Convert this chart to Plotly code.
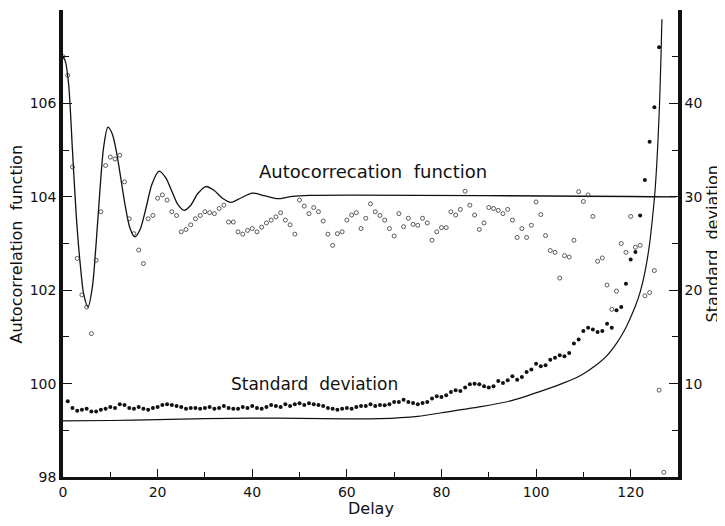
import plotly.graph_objects as go

# ---------------- data ----------------
# Autocorrelation function: measured points (left axis), delays 0..127
acf_delay = list(range(0, 128))
acf_values = [
    107.0, 106.6, 104.64, 102.68, 101.9, 101.64, 101.07, 102.64, 103.68, 104.67,
    104.85, 104.81, 104.89, 104.32, 103.53, 103.21, 102.86, 102.57, 103.53, 103.6,
    103.97, 104.04, 103.93, 103.68, 103.6, 103.25, 103.3, 103.4, 103.53, 103.6,
    103.68, 103.66, 103.64, 103.75, 103.82, 103.46, 103.46, 103.25, 103.2, 103.28,
    103.32, 103.25, 103.35, 103.44, 103.5, 103.57, 103.66, 103.5, 103.4, 103.2,
    103.93, 103.8, 103.64, 103.77, 103.68, 103.48, 103.2, 102.96, 103.21, 103.25,
    103.5, 103.61, 103.66, 103.32, 103.54, 103.85, 103.68, 103.6, 103.5, 103.32,
    103.16, 103.64, 103.36, 103.54, 103.41, 103.39, 103.54, 103.44, 103.07, 103.25,
    103.34, 103.34, 103.68, 103.61, 103.73, 104.12, 103.82, 103.61, 103.3, 103.44,
    103.77, 103.75, 103.71, 103.64, 103.73, 103.5, 103.13, 103.32, 103.13, 103.39,
    103.89, 103.62, 103.17, 102.85, 102.81, 102.26, 102.74, 102.71, 103.07, 104.11,
    103.9, 104.04, 103.58, 102.62, 102.69, 102.11, 101.59, 101.98, 103.0, 102.81,
    103.58, 102.92, 102.96, 101.88, 101.95, 102.42, 99.86, 98.1,
]

# Autocorrelation function: theoretical curve (left axis)
acf_curve_x = [0, 0.5, 1.2, 2.0, 2.8, 3.6, 4.4, 5.3, 6.2, 7.0, 7.8, 8.6, 9.5,
               10.4, 11.3, 12.2, 13.1, 14.1, 15.2, 16.3, 17.5, 18.8, 20.3,
               21.7, 23.0, 24.3, 25.6, 27.0, 28.5, 30.2, 31.9, 33.7, 35.5,
               37.7, 40.0, 42.7, 45.6, 48.5, 52.0, 129.6]
acf_curve_y = [107.0, 106.9, 106.4, 105.0, 103.6, 102.6, 101.9, 101.64, 102.06,
               103.0, 104.13, 105.07, 105.49, 105.35, 104.96, 104.41, 103.84,
               103.35, 103.14, 103.30, 103.74, 104.27, 104.55, 104.41, 104.12,
               103.83, 103.71, 103.82, 104.07, 104.22, 104.14, 103.97, 103.88,
               103.98, 104.08, 104.02, 103.96, 104.01, 104.03, 104.0]

# Standard deviation: measured points (right axis), delays 1..126
std_delay = list(range(1, 127))
std_values = [
    8.1, 7.4, 7.1, 7.2, 7.3, 7.0, 7.0, 7.2, 7.3, 7.5,
    7.4, 7.8, 7.7, 7.4, 7.3, 7.5, 7.3, 7.2, 7.4, 7.5,
    7.7, 7.8, 7.7, 7.6, 7.5, 7.3, 7.4, 7.4, 7.3, 7.4,
    7.5, 7.3, 7.4, 7.6, 7.4, 7.3, 7.3, 7.5, 7.4, 7.6,
    7.4, 7.3, 7.5, 7.7, 7.6, 7.5, 7.8, 7.6, 7.8, 7.9,
    7.7, 7.9, 7.8, 7.7, 7.6, 7.4, 7.3, 7.2, 7.3, 7.4,
    7.3, 7.5, 7.6, 7.6, 7.8, 7.6, 7.7,
    7.68, 7.79, 8.03, 8.03, 8.28, 8.03, 7.92, 7.79, 7.92, 8.03,
    8.4, 8.64, 8.57, 8.75, 9.11, 9.3, 9.21, 9.57, 9.92, 9.99,
    9.92, 9.71, 9.57, 9.71, 10.28, 10.07, 10.35, 10.78, 10.42, 10.71,
    11.25, 11.5, 12.13, 11.85, 11.96, 12.56, 12.78, 13.03, 12.92, 13.28,
    14.28, 14.71, 15.63, 15.99, 15.78, 15.53, 15.63, 16.42, 15.99, 17.85,
    18.21, 20.7, 23.3, 24.1, 28.0, 31.8, 35.9, 39.6, 46.0,
]

# Standard deviation: theoretical curve (right axis)
std_curve_x = [0, 10, 20, 30, 40, 50, 60, 67, 75, 81, 88, 95, 102, 106, 109.5,
               113, 115, 117, 118, 119, 120, 121, 122, 123, 124, 124.6, 125.2,
               125.7, 126.1, 126.4, 126.6]
std_curve_y = [6.0, 6.05, 6.15, 6.25, 6.3, 6.28, 6.22, 6.25, 6.5, 6.95, 7.5, 8.2,
               9.35, 10.1, 10.9, 12.1, 13.0, 14.3, 15.1, 16.0, 17.1, 18.3, 19.8,
               21.9, 25.0, 27.7, 31.0, 35.3, 40.0, 45.0, 49.0]

x_ticks = [0, 20, 40, 60, 80, 100, 120]
left_ticks = [98, 100, 102, 104, 106, 108]
left_labels = ["98", "100", "102", "104", "106", ""]
right_ticks = [0, 10, 20, 30, 40, 50]
right_labels = ["", "10", "20", "30", "40", ""]

FONT = "DejaVu Sans"
INK = "#111111"

fig = go.Figure()

fig.add_trace(go.Scatter(
    x=acf_curve_x, y=acf_curve_y, mode="lines",
    line=dict(color=INK, width=1.3, shape="spline", smoothing=0.8),
    yaxis="y", hoverinfo="skip"))

fig.add_trace(go.Scatter(
    x=acf_delay, y=acf_values, mode="markers",
    marker=dict(symbol="circle-open", size=4, color="#333333",
                line=dict(width=0.8, color="#333333")),
    yaxis="y"))

fig.add_trace(go.Scatter(
    x=std_curve_x, y=std_curve_y, mode="lines",
    line=dict(color=INK, width=1.2, shape="spline", smoothing=0.6),
    yaxis="y2", hoverinfo="skip"))

fig.add_trace(go.Scatter(
    x=std_delay, y=std_values, mode="markers",
    marker=dict(symbol="circle", size=4, color=INK),
    yaxis="y2"))

axis_common = dict(
    showgrid=False, zeroline=False, showline=True, linecolor=INK,
    ticks="inside", tickcolor=INK, tickwidth=1.3,
    tickfont=dict(family=FONT, size=14, color=INK),
)

fig.update_layout(
    width=725, height=526,
    # the page body adds an 8px offset; margins compensate for it
    margin=dict(l=55, r=55, t=2, b=57),
    paper_bgcolor="white", plot_bgcolor="white",
    showlegend=False,
    xaxis=dict(
        range=[0, 130], linewidth=3, ticklen=8,
        tickmode="array", tickvals=x_ticks,
        minor=dict(dtick=10, tick0=0, ticklen=5, ticks="inside",
                   tickcolor=INK, tickwidth=1.1),
        **axis_common),
    yaxis=dict(
        range=[98, 108], linewidth=3.5, ticklen=9,
        tickmode="array", tickvals=left_ticks, ticktext=left_labels,
        minor=dict(dtick=1, tick0=98, ticklen=6, ticks="inside",
                   tickcolor=INK, tickwidth=1.1),
        **axis_common),
    yaxis2=dict(
        range=[0, 50], overlaying="y", side="right", linewidth=3.5, ticklen=9,
        tickmode="array", tickvals=right_ticks, ticktext=right_labels,
        minor=dict(dtick=5, tick0=0, ticklen=6, ticks="inside",
                   tickcolor=INK, tickwidth=1.1),
        **axis_common),
    annotations=[
        dict(text="Autocorrecation  function", x=65.6, y=104.55, xref="x", yref="y",
             xanchor="center", yanchor="middle", showarrow=False,
             font=dict(family=FONT, size=18, color=INK)),
        dict(text="Standard  deviation", x=53.1, y=100.0, xref="x", yref="y",
             xanchor="center", yanchor="middle", showarrow=False,
             font=dict(family=FONT, size=17, color=INK)),
        dict(text="Autocorrelation  function", x=-0.0748, y=0.5, xref="paper",
             yref="paper", xanchor="center", yanchor="middle", textangle=-90,
             showarrow=False, font=dict(family=FONT, size=16, color=INK)),
        dict(text="Standard  deviation", x=1.0569, y=0.5, xref="paper",
             yref="paper", xanchor="center", yanchor="middle", textangle=-90,
             showarrow=False, font=dict(family=FONT, size=16, color=INK)),
        dict(text="Delay", x=0.5, y=-0.0664, xref="paper", yref="paper",
             xanchor="center", yanchor="middle", showarrow=False,
             font=dict(family=FONT, size=16, color=INK)),
    ],
)

fig.write_html("out.html")
